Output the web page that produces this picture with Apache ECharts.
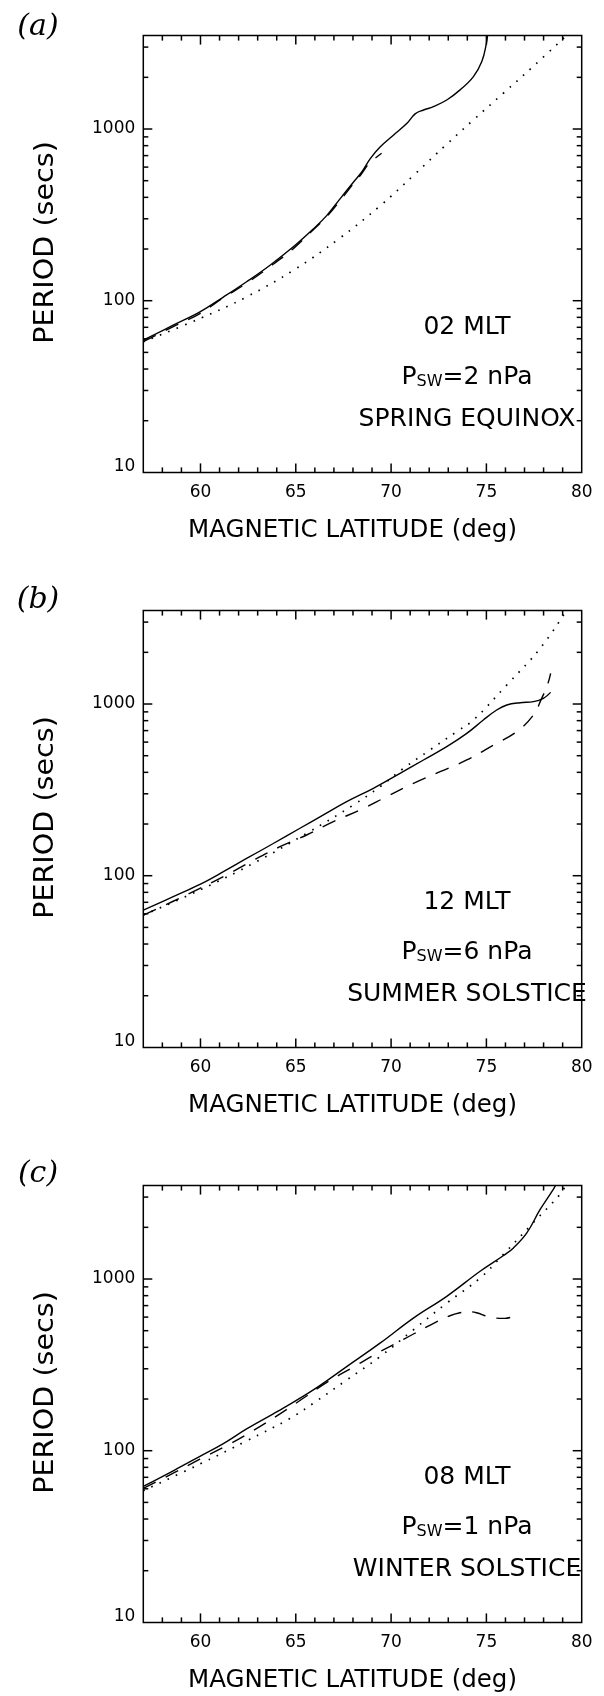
<!DOCTYPE html>
<html><head><meta charset="utf-8">
<script src="https://cdn.jsdelivr.net/npm/echarts@6/dist/echarts.min.js"></script>
<style>html,body{margin:0;padding:0;background:#fff}#c{width:604px;height:1696px}</style>
</head><body><div id="c"></div><script>
// ---- tick values / labels ----
const latLabels = [60, 65, 70, 75, 80];
const latMajorTicks = [60, 65, 70, 75];
const latMinorTicks = [58, 59, 61, 62, 63, 64, 66, 67, 68, 69, 71, 72, 73, 74, 76, 77, 78, 79];
const periodLabels = [10, 100, 1000];
const periodMajorTicks = [100, 1000];
const periodMinorTicks = [20, 30, 40, 50, 60, 70, 80, 90, 200, 300, 400, 500, 600, 700, 800, 900, 2000, 3000];
const latRange = [57, 80];
const periodRange = [10, 3500];

// ---- annotation texts ----
const panelTags = ['(a)', '(b)', '(c)'];
const mltTexts = ['02 MLT', '12 MLT', '08 MLT'];
const pswValues = ['2', '6', '1'];
const seasonTexts = ['SPRING EQUINOX', 'SUMMER SOLSTICE', 'WINTER SOLSTICE'];

// ---- data: [magnetic latitude (deg), period (s)] ----
const springSolid = [[57, 59], [58.57, 72], [59.97, 86], [61.2, 105], [62.42, 129], [63.65, 161], [64.87, 206], [65.92, 262], [66.62, 313], [67.32, 392], [68.02, 490], [68.46, 562], [68.9, 670], [69.42, 785], [70.12, 920], [70.82, 1075], [71.26, 1225], [71.7, 1290], [72.22, 1350], [72.92, 1476], [73.62, 1690], [74.32, 2020], [74.76, 2470], [75.0, 3150], [75.07, 3600]];
const springDashed = [[57, 57.7], [58.57, 70.6], [59.97, 84.2], [61.2, 104], [62.42, 126.5], [63.65, 158], [64.87, 201], [65.92, 259], [66.62, 308], [67.32, 382], [68.02, 480], [68.46, 550], [68.9, 645], [69.1, 668], [69.5, 722]];
const springDotted = [[57, 57.7], [60, 79], [62.4, 105], [64.9, 151], [67.3, 231], [69.4, 355], [71.2, 540], [72.9, 812], [74.3, 1125], [75.9, 1620], [77.5, 2340], [79.2, 3500]];

const summerSolid = [[57, 63], [58.57, 75.5], [59.97, 89], [61.2, 105.5], [62.42, 126], [63.82, 154], [65.22, 189], [66.45, 226], [67.67, 270], [69.07, 323], [70.47, 395], [71.7, 472], [72.92, 564], [73.97, 674], [74.84, 807], [75.54, 923], [76.07, 987], [76.77, 1018], [77.47, 1032], [77.99, 1079], [78.37, 1169]];
const summerDashed = [[57, 59], [58.57, 71], [59.97, 84.3], [61.37, 101], [62.77, 123], [64.17, 147.6], [65.57, 172.6], [66.97, 206.5], [68.37, 241.6], [69.77, 288.7], [71.17, 345], [72.57, 403.6], [73.97, 472], [75.37, 577], [76.59, 690], [77.47, 863], [77.9, 1079], [78.2, 1289], [78.37, 1510]];
const summerDotted = [[57, 59], [59.97, 82.5], [62.95, 120.8], [65.57, 176.5], [68.02, 258], [69.42, 330], [70.64, 421], [72.04, 540], [73.44, 690], [74.32, 807], [76.07, 1291], [77.82, 2108], [79.2, 3500]];

const winterSolid = [[57, 62], [58.57, 76.4], [59.97, 92.7], [61.2, 110], [62.42, 134], [63.82, 164], [64.17, 172.5], [65.92, 226], [67.67, 309], [69.42, 423], [71.17, 592], [72.92, 793], [74.67, 1109], [75.9, 1370], [76.42, 1517], [77.12, 1856], [77.82, 2541], [78.51, 3327], [78.65, 3550]];
const winterDashed = [[57, 60.3], [58.57, 74], [59.97, 89.3], [61.37, 107], [62.77, 131], [64.17, 164], [65.39, 202], [66.65, 251], [68.02, 307], [69.33, 373], [70.68, 447], [72.08, 541], [73.09, 611], [73.61, 636], [74.05, 645], [74.48, 636], [75.18, 600], [75.97, 590], [76.58, 614]];
const winterDotted = [[57, 58.5], [59.97, 83.6], [62.42, 114], [64.69, 154], [65.92, 189], [67.67, 258], [69.42, 353], [71.17, 506], [72.92, 724], [74.67, 1013], [75.88, 1387], [77.45, 2123], [78.86, 3110], [79.15, 3500]];

const panelSeries = [
  [springSolid, springDashed, springDotted],
  [summerSolid, summerDashed, summerDotted],
  [winterSolid, winterDashed, winterDotted]
];

// ---- layout ----
const GL = 143.3, GW = 438.4, GH = 436.8;
const TOPS = [35.6, 610.6, 1185.6];
const TAG_DY = [-8, -10, -11];
const FONT = 'DejaVu Sans';
const BLACK = '#000';
const MAJOR_LEN = 9, MINOR_LEN = 5, TICK_W = 1.5;

const grids = [], xAxes = [], yAxes = [], series = [], graphics = [];

function periodFmt(v) {
  const r = Math.round(v);
  return r === 10 ? '{lo|10}' : String(r);
}

// tick marks: small rect symbols placed at the tick values on each border, shifted inward
function tickSeries(p, pts, size, offset) {
  return { type: 'scatter', xAxisIndex: p, yAxisIndex: p, data: pts, symbol: 'rect',
    symbolSize: size, symbolOffset: offset, itemStyle: { color: BLACK, opacity: 1 },
    silent: true, clip: false, z: 4, animation: false, emphasis: { disabled: true } };
}

TOPS.forEach((top, p) => {
  grids.push({ left: GL, top: top, width: GW, height: GH, show: true, borderColor: BLACK, borderWidth: 1.5, backgroundColor: 'transparent', containLabel: false });
  xAxes.push({ gridIndex: p, type: 'value', min: latRange[0], max: latRange[1], position: 'bottom',
    axisLine: { show: false, onZero: false }, splitLine: { show: false }, axisTick: { show: false },
    axisLabel: { show: true, customValues: latLabels, fontFamily: FONT, fontSize: 17, color: BLACK, margin: 12 } });
  yAxes.push({ gridIndex: p, type: 'log', logBase: 10, min: periodRange[0], max: periodRange[1], position: 'left',
    axisLine: { show: false, onZero: false }, splitLine: { show: false }, axisTick: { show: false },
    axisLabel: { show: true, customValues: periodLabels, formatter: periodFmt, fontFamily: FONT, fontSize: 17, color: BLACK, margin: 8,
      rich: { lo: { fontFamily: FONT, fontSize: 17, color: BLACK, padding: [0, 0, 12, 0] } } } });

  const styles = [
    { color: BLACK, width: 1.4, type: 'solid' },
    { color: BLACK, width: 1.4, type: [14, 11] },
    { color: BLACK, width: 1.7, type: [1.6, 7.4] }
  ];
  panelSeries[p].forEach((d, k) => {
    series.push({ type: 'line', xAxisIndex: p, yAxisIndex: p, data: d, symbol: 'none',
      smooth: 0.4, lineStyle: styles[k], silent: true, clip: true, z: 3 });
  });

  // ticks on the four borders
  series.push(tickSeries(p, latMajorTicks.map(v => [v, periodRange[0]]), [TICK_W, MAJOR_LEN], [0, -MAJOR_LEN / 2]));
  series.push(tickSeries(p, latMajorTicks.map(v => [v, periodRange[1]]), [TICK_W, MAJOR_LEN], [0, MAJOR_LEN / 2]));
  series.push(tickSeries(p, latMinorTicks.map(v => [v, periodRange[0]]), [TICK_W, MINOR_LEN], [0, -MINOR_LEN / 2]));
  series.push(tickSeries(p, latMinorTicks.map(v => [v, periodRange[1]]), [TICK_W, MINOR_LEN], [0, MINOR_LEN / 2]));
  series.push(tickSeries(p, periodMajorTicks.map(v => [latRange[0], v]), [MAJOR_LEN, TICK_W], [MAJOR_LEN / 2, 0]));
  series.push(tickSeries(p, periodMajorTicks.map(v => [latRange[1], v]), [MAJOR_LEN, TICK_W], [-MAJOR_LEN / 2, 0]));
  series.push(tickSeries(p, periodMinorTicks.map(v => [latRange[0], v]), [MINOR_LEN, TICK_W], [MINOR_LEN / 2, 0]));
  series.push(tickSeries(p, periodMinorTicks.map(v => [latRange[1], v]), [MINOR_LEN, TICK_W], [-MINOR_LEN / 2, 0]));

  // texts
  const cx = 467;
  const centered = { fill: BLACK, align: 'center', verticalAlign: 'middle', textAlign: 'center', textVerticalAlign: 'middle' };
  graphics.push({ type: 'text', x: 38, y: top + TAG_DY[p], style: Object.assign({ text: panelTags[p], fontFamily: 'DejaVu Serif', fontStyle: 'italic', fontSize: 30 }, centered) });
  graphics.push({ type: 'text', x: cx, y: top + 291.7, style: Object.assign({ text: mltTexts[p], fontFamily: FONT, fontSize: 25 }, centered) });
  graphics.push({ type: 'text', x: cx, y: top + 341.4, style: Object.assign({ text: '{p|P}{s|SW}{t|=' + pswValues[p] + ' nPa}',
    rich: { p: { fontFamily: FONT, fontSize: 25 }, s: { fontFamily: FONT, fontSize: 16, padding: [10, 0, 0, 0] }, t: { fontFamily: FONT, fontSize: 25 } } }, centered) });
  graphics.push({ type: 'text', x: cx, y: top + 383.9, style: Object.assign({ text: seasonTexts[p], fontFamily: FONT, fontSize: 25 }, centered) });
  graphics.push({ type: 'text', x: 352.5, y: top + GH + 58.4, style: Object.assign({ text: 'MAGNETIC LATITUDE (deg)', fontFamily: FONT, fontSize: 24.5 }, centered) });
  graphics.push({ type: 'text', x: 46.7, y: top + 206.9, rotation: Math.PI / 2, scaleX: 1.1, style: Object.assign({ text: 'PERIOD (secs)', fontFamily: FONT, fontSize: 26 }, centered) });
});

const chart = echarts.init(document.getElementById('c'), null, { renderer: 'canvas' });
chart.setOption({
  animation: false,
  backgroundColor: '#fff',
  grid: grids,
  xAxis: xAxes,
  yAxis: yAxes,
  series: series,
  graphic: graphics
});
</script></body></html>
